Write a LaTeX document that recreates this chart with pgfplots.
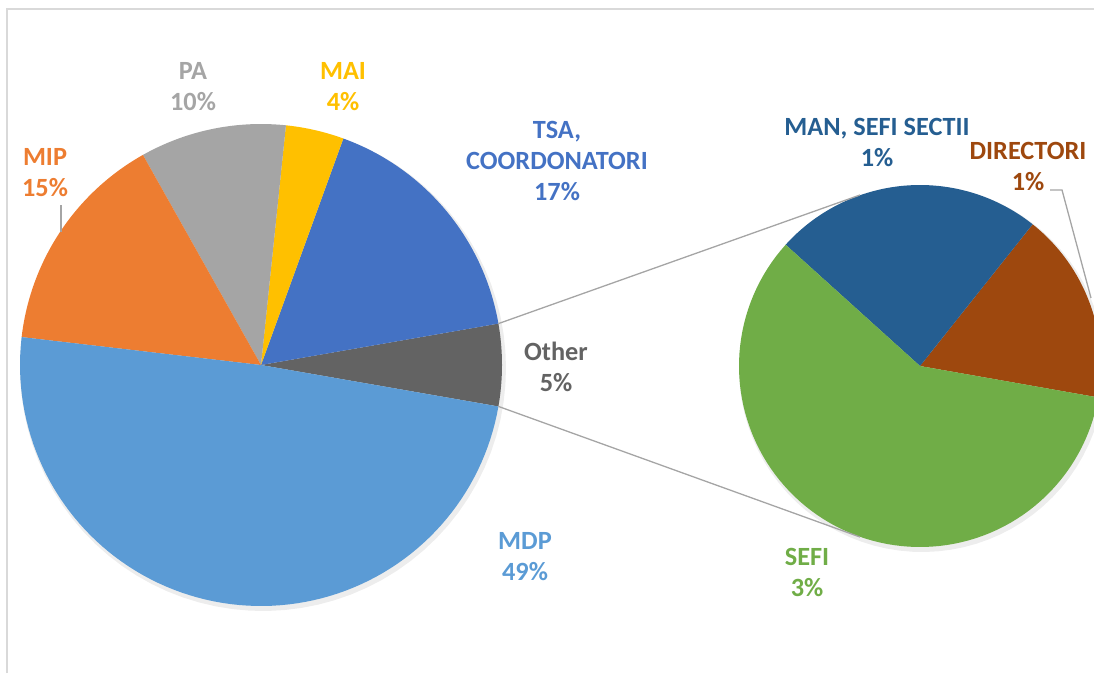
\documentclass[border=0pt]{standalone}
\usepackage{pgfplots}
\pgfplotsset{compat=1.18}
\usepackage{fontspec}
\setmainfont{Carlito}
\definecolor{cMDP}{HTML}{5B9BD5}
\definecolor{cMIP}{HTML}{ED7D31}
\definecolor{cPA}{HTML}{A5A5A5}
\definecolor{cMAI}{HTML}{FFC000}
\definecolor{cTSA}{HTML}{4472C4}
\definecolor{cOther}{HTML}{636363}
\definecolor{cSEFI}{HTML}{70AD47}
\definecolor{cMAN}{HTML}{255E91}
\definecolor{cDIR}{HTML}{9E480E}
\definecolor{cLine}{HTML}{A5A5A5}
\definecolor{cFrame}{HTML}{D9D9D9}
\tikzset{lab/.style={font=\bfseries\fontsize{26.3}{31}\selectfont, align=center}}
% values (percent of total)
\def\vOther{5.5}\def\vTSA{16.7}\def\vMAI{3.9}\def\vPA{9.8}\def\vMIP{15.0}\def\vMDP{49.1}
\def\vDIR{0.94}\def\vMAN{1.32}\def\vSEFI{3.24}
\begin{document}
\begin{tikzpicture}
\useasboundingbox (0,0) rectangle (1094pt,673pt);
\pgfmathsetmacro\aA{-9.9}
\pgfmathsetmacro\aB{\aA+3.6*\vOther}
\pgfmathsetmacro\aC{\aB+3.6*\vTSA}
\pgfmathsetmacro\aD{\aC+3.6*\vMAI}
\pgfmathsetmacro\aE{\aD+3.6*\vPA}
\pgfmathsetmacro\aF{\aE+3.6*\vMIP}
\pgfmathsetmacro\aG{\aF+3.6*\vMDP}
\pgfmathsetmacro\tot{\vDIR+\vMAN+\vSEFI}
\pgfmathsetmacro\bA{-10}
\pgfmathsetmacro\bB{\bA+360*\vDIR/\tot}
\pgfmathsetmacro\bC{\bB+360*\vMAN/\tot}
\pgfmathsetmacro\bD{\bC+360*\vSEFI/\tot}
\begin{axis}[
  at={(0,0)}, anchor=south west,
  width=1094pt, height=673pt, scale only axis,
  xmin=0, xmax=1094, ymin=0, ymax=673, y dir=reverse,
  hide axis, clip=true,
  samples=90,
  every axis plot/.append style={draw=none},
]
% frame
\draw[cFrame, line width=1.5pt] (axis cs:7,673) -- (axis cs:7,9) -- (axis cs:1094,9);
% shadows
\addplot[fill=black!7, domain=0:360] ({263+243*cos(x)},{368-243*sin(x)}) -- cycle;
\addplot[fill=black!7, domain=0:360] ({922+183*cos(x)},{369-183*sin(x)}) -- cycle;
% main pie
\addplot[fill=cOther, domain=\aA:\aB] ({261+241*cos(x)},{365-241*sin(x)}) -- (axis cs:261,365) -- cycle;
\addplot[fill=cTSA, domain=\aB:\aC] ({261+241*cos(x)},{365-241*sin(x)}) -- (axis cs:261,365) -- cycle;
\addplot[fill=cMAI, domain=\aC:\aD] ({261+241*cos(x)},{365-241*sin(x)}) -- (axis cs:261,365) -- cycle;
\addplot[fill=cPA, domain=\aD:\aE] ({261+241*cos(x)},{365-241*sin(x)}) -- (axis cs:261,365) -- cycle;
\addplot[fill=cMIP, domain=\aE:\aF] ({261+241*cos(x)},{365-241*sin(x)}) -- (axis cs:261,365) -- cycle;
\addplot[fill=cMDP, domain=\aF:\aG] ({261+241*cos(x)},{365-241*sin(x)}) -- (axis cs:261,365) -- cycle;
% secondary pie
\addplot[fill=cDIR, domain=\bA:\bB] ({920+181*cos(x)},{366-181*sin(x)}) -- (axis cs:920,366) -- cycle;
\addplot[fill=cMAN, domain=\bB:\bC] ({920+181*cos(x)},{366-181*sin(x)}) -- (axis cs:920,366) -- cycle;
\addplot[fill=cSEFI, domain=\bC:\bD] ({920+181*cos(x)},{366-181*sin(x)}) -- (axis cs:920,366) -- cycle;
% connector lines
\draw[cLine, line width=1.3pt] (axis cs:498.4,323.6) -- (axis cs:860,195);
\draw[cLine, line width=1.3pt] (axis cs:498.4,406.4) -- (axis cs:860,537);
% leader lines
\draw[cLine, line width=1.3pt] (axis cs:61,205) -- (axis cs:61,232);
\draw[cLine, line width=1.3pt] (axis cs:1050,190) -- (axis cs:1062,190) -- (axis cs:1091,298);
% labels
\node[lab, text=cPA] at (axis cs:193,87) {PA\\10\%};
\node[lab, text=cMAI] at (axis cs:343,87) {MAI\\4\%};
\node[lab, text=cMIP] at (axis cs:45,173) {MIP\\15\%};
\node[lab, text=cTSA] at (axis cs:557,161) {TSA,\\COORDONATORI\\17\%};
\node[lab, text=cOther] at (axis cs:556,367) {Other\\5\%};
\node[lab, text=cMDP] at (axis cs:525,557) {MDP\\49\%};
\node[lab, text=cSEFI] at (axis cs:807,572) {SEFI\\3\%};
\node[lab, text=cMAN] at (axis cs:877,142) {MAN, SEFI SECTII\\1\%};
\node[lab, text=cDIR] at (axis cs:1028,166) {DIRECTORI\\1\%};
\end{axis}
\end{tikzpicture}
\end{document}
